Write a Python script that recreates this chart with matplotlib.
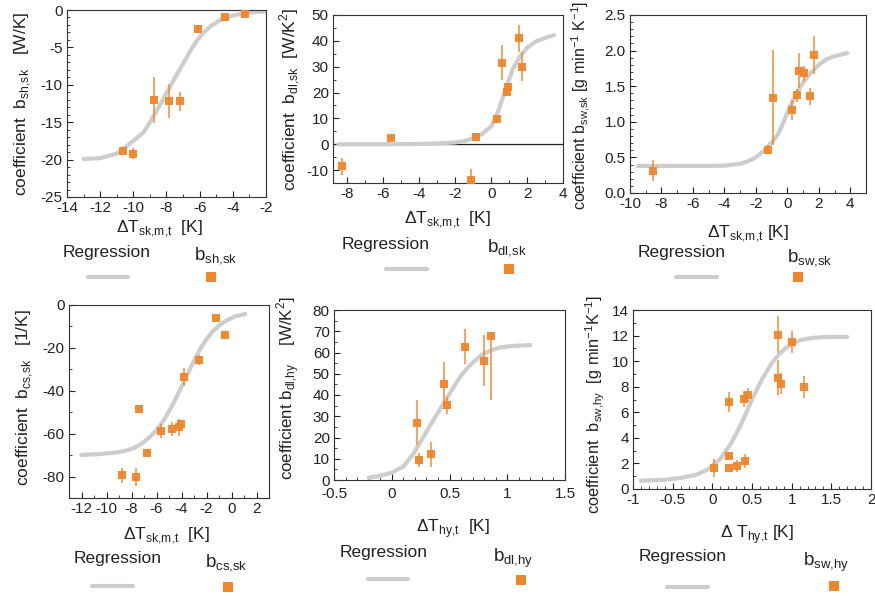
import matplotlib
matplotlib.use("Agg")
import matplotlib.pyplot as plt
from matplotlib.lines import Line2D
from matplotlib.ticker import MultipleLocator, AutoMinorLocator, FuncFormatter

plt.rcParams['font.family'] = ['Liberation Sans', 'DejaVu Sans']
plt.rcParams['mathtext.fontset'] = 'custom'
plt.rcParams['mathtext.rm'] = 'Liberation Sans'
plt.rcParams['axes.unicode_minus'] = False

ORANGE = '#f0862a'
GRAY = '#cdcdcd'

# ---------------- data ----------------
# Panel 1: b_sh,sk vs dT_sk,m,t
x1 = [-10.62, -10.02, -8.73, -7.87, -7.19, -6.08, -4.45, -3.25]
y1 = [-18.8, -19.2, -12.0, -12.2, -12.2, -2.5, -0.9, -0.5]
e1 = [0.4, 0.75, 3.1, 2.3, 1.25, 0.5, 0.2, 0.2]
cx1 = [-13.0, -12.0, -11.0, -10.4, -9.9, -9.4, -9.0, -8.6, -8.2, -7.8, -7.4,
       -7.0, -6.6, -6.2, -5.8, -5.3, -4.8, -4.2, -3.5, -2.8, -2.0]
cy1 = [-19.93, -19.8, -19.2, -18.2, -17.3, -16.4, -15.0, -13.5, -11.9, -10.3, -8.7,
       -7.2, -5.6, -4.2, -3.1, -2.1, -1.4, -0.85, -0.5, -0.3, -0.2]

# Panel 2: b_dl,sk vs dT_sk,m,t
x2 = [-8.28, -5.57, -1.14, -0.82, 0.30, 0.62, 0.86, 0.93, 1.57, 1.74]
y2 = [-8.6, 2.4, -13.8, 2.7, 9.7, 31.6, 20.1, 22.0, 41.0, 30.0]
e2 = [3.2, 0.8, 4.1, 1.5, 1.2, 6.7, 1.6, 1.2, 5.3, 5.7]
cx2 = [-8.5, -6.0, -4.0, -3.0, -2.0, -1.5, -1.0, -0.5, 0.0, 0.3, 0.6, 0.9,
       1.2, 1.6, 2.0, 2.5, 3.0, 3.5]
cy2 = [0.0, 0.0, 0.1, 0.3, 0.7, 1.2, 2.3, 4.0, 6.8, 11.0, 17.0, 23.2,
       29.0, 33.9, 37.3, 39.8, 41.1, 42.2]

# Panel 3: b_sw,sk vs dT_sk,m,t
x3 = [-8.51, -1.23, -0.89, 0.28, 0.60, 0.74, 1.06, 1.45, 1.72]
y3 = [0.315, 0.61, 1.34, 1.16, 1.37, 1.72, 1.68, 1.36, 1.94]
e3 = [0.15, 0.065, 0.665, 0.14, 0.085, 0.24, 0.1, 0.12, 0.27]
cx3 = [-9.5, -7.0, -5.0, -4.0, -3.0, -2.5, -2.0, -1.5, -1.0, -0.6, -0.2,
       0.2, 0.6, 1.0, 1.5, 2.0, 2.5, 3.0, 3.8]
cy3 = [0.38, 0.38, 0.38, 0.385, 0.41, 0.445, 0.50, 0.59, 0.71, 0.82, 1.02,
       1.23, 1.40, 1.55, 1.69, 1.80, 1.88, 1.92, 1.965]

# Panel 4: b_cs,sk vs dT_sk,m,t
x4 = [-8.73, -7.64, -7.40, -6.75, -5.66, -4.77, -4.18, -4.08, -3.78, -2.60, -1.21, -0.49]
y4 = [-79.5, -80.0, -48.3, -69.0, -58.7, -57.9, -57.0, -55.5, -33.7, -25.6, -6.2, -14.2]
e4 = [3.6, 4.2, 1.2, 1.3, 3.1, 3.4, 4.0, 2.0, 4.1, 2.5, 0.5, 0.5]
cx4 = [-12.0, -10.5, -9.2, -8.5, -7.85, -7.2, -6.5, -6.0, -5.4, -4.9, -4.4,
       -3.9, -3.5, -3.0, -2.5, -2.0, -1.5, -1.0, -0.4, 0.3, 1.1]
cy4 = [-69.9, -69.5, -68.8, -68.0, -66.8, -64.7, -61.4, -58.4, -53.6, -48.6, -43.0,
       -37.0, -32.0, -26.0, -20.5, -16.0, -12.3, -9.6, -7.2, -5.3, -4.2]

# Panel 5: b_dl,hy vs dT_hy,t
x5 = [0.217, 0.24, 0.34, 0.45, 0.478, 0.63, 0.797, 0.858]
y5 = [27.0, 9.4, 12.1, 45.3, 35.1, 62.7, 56.2, 67.9]
e5_lo = [10.5, 3.5, 5.9, 10.4, 4.1, 8.3, 12.1, 30.3]
e5_hi = [10.5, 3.5, 5.9, 10.4, 4.1, 8.3, 12.1, 0.0]
cx5 = [-0.2, -0.1, 0.0, 0.1, 0.19, 0.275, 0.36, 0.45, 0.51, 0.565, 0.62,
       0.68, 0.74, 0.8, 0.87, 0.94, 1.05, 1.2]
cy5 = [1.1, 2.0, 3.5, 6.3, 12.5, 20.4, 28.2, 36.1, 41.5, 46.3, 50.5,
       54.1, 57.2, 59.6, 61.2, 62.4, 63.1, 63.5]

# Panel 6: b_sw,hy vs dT_hy,t
x6 = [0.02, 0.207, 0.215, 0.215, 0.306, 0.41, 0.40, 0.45, 0.83, 0.83, 0.86, 1.00, 1.15]
y6 = [1.65, 2.6, 1.65, 6.82, 1.78, 2.2, 7.05, 7.37, 12.07, 8.7, 8.23, 11.49, 8.0]
e6 = [0.7, 0.3, 0.1, 0.8, 0.45, 0.55, 0.65, 0.55, 1.44, 1.37, 0.83, 0.86, 0.87]
cx6 = [-0.9, -0.6, -0.4, -0.2, -0.05, 0.1, 0.24, 0.37, 0.5, 0.625, 0.75, 0.85,
       0.93, 1.04, 1.14, 1.27, 1.4, 1.55, 1.7]
cy6 = [0.65, 0.72, 0.86, 1.12, 1.55, 2.35, 3.6, 5.17, 7.0, 8.57, 9.85, 10.6,
       11.05, 11.45, 11.7, 11.82, 11.88, 11.9, 11.9]

# ---------------- layout ----------------
W, H = 875, 596
fig = plt.figure(figsize=(W / 100, H / 100), dpi=100)


def add_axes(l, r, t, b):
    return fig.add_axes([l / W, 1 - b / H, (r - l) / W, (b - t) / H])


def fx(x):
    return x / W


def fy(y):
    return 1 - y / H


def sub(s):
    return '$_\\mathregular{' + s.replace(',', '{,}') + '}$'


gfmt = FuncFormatter(lambda v, pos: '%g' % round(v, 6))

panels = [
    dict(box=(67, 266, 10, 197), x=x1, y=y1, e=e1, cx=cx1, cy=cy1,
         xlim=(-14, -2), ylim=(-25, 0), xmaj=2, xmin=2, ymaj=5, ymin=5,
         ylabel='coefficient  b' + sub('sh,sk') + '   [W/K]', ylc=(-0.17, 0.5), yfs=12.5,
         xlabel='ΔT' + sub('sk,m,t') + '  [K]', xlc=(0.467, -0.115),
         leg=dict(reg=(107, 253), line=(88, 128, 277), lab=(194, 256), sq=(211, 277)),
         lab='b' + sub('sh,sk')),
    dict(box=(333, 563, 15, 183), x=x2, y=y2, e=e2, cx=cx2, cy=cy2,
         xlim=(-8.8, 4), ylim=(-15, 50), xmaj=2, xmin=2, ymaj=10, ymin=2,
         ylabel='coefficient  b' + sub('dl,sk') + '  [W/K$^\\mathregular{2}$]', ylc=(-0.13, 0.5), yfs=12.5,
         xlabel='ΔT' + sub('sk,m,t') + '  [K]', xlc=(0.5, -0.16),
         leg=dict(reg=(386, 245), line=(386, 427, 269), lab=(487, 248), sq=(509, 269)),
         lab='b' + sub('dl,sk'), zero=True),
    dict(box=(630, 866, 15, 193), x=x3, y=y3, e=e3, cx=cx3, cy=cy3,
         xlim=(-10, 5), ylim=(0, 2.5), xmaj=2, xmin=2, ymaj=0.5, ymin=5,
         ylabel='coefficient b' + sub('sw,sk') + ' [g min$^\\mathregular{-1}$ K$^\\mathregular{-1}$]',
         ylc=(-0.16, 0.49), yfs=11.5,
         xlabel='ΔT' + sub('sk,m,t') + ' [K]', xlc=(0.5, -0.17),
         leg=dict(reg=(682, 253), line=(676, 717, 277), lab=(787, 258), sq=(798, 277)),
         lab='b' + sub('sw,sk'), yfmt='%.1f'),
    dict(box=(69, 269, 305, 498), x=x4, y=y4, e=e4, cx=cx4, cy=cy4,
         xlim=(-13, 3), ylim=(-90, 0), xmaj=2, xmin=2, ymaj=20, ymin=2,
         ylabel='coefficient  b' + sub('cs,sk') + '   [1/K]', ylc=(-0.17, 0.52), yfs=12.5,
         xlabel='ΔT' + sub('sk,m,t') + '  [K]', xlc=(0.49, -0.14),
         leg=dict(reg=(118, 558), line=(92, 133, 586), lab=(205, 563), sq=(228, 587)),
         lab='b' + sub('cs,sk')),
    dict(box=(334, 565, 310, 480), x=x5, y=y5, e=[e5_lo, e5_hi], cx=cx5, cy=cy5,
         xlim=(-0.5, 1.5), ylim=(0, 80), xmaj=0.5, xmin=5, ymaj=10, ymin=2,
         ylabel='coefficient b' + sub('dl,hy') + '    [W/K$^\\mathregular{2}$]', ylc=(-0.14, 0.54), yfs=12.2,
         xlabel='ΔT' + sub('hy,t') + '  [K]', xlc=(0.515, -0.218),
         leg=dict(reg=(384, 553), line=(368, 408, 579), lab=(493, 558), sq=(521, 580)),
         lab='b' + sub('dl,hy'), xpad=5),
    dict(box=(633, 871, 310, 489), x=x6, y=y6, e=e6, cx=cx6, cy=cy6,
         xlim=(-1, 2), ylim=(0, 14), xmaj=0.5, xmin=5, ymaj=2, ymin=2,
         ylabel='coefficient  b' + sub('sw,hy') + '  [g min$^\\mathregular{-1}$K$^\\mathregular{-1}$]',
         ylc=(-0.11, 0.47), yfs=11.8,
         xlabel='Δ T' + sub('hy,t') + ' [K]', xlc=(0.52, -0.19),
         leg=dict(reg=(683, 557), line=(667, 708, 587), lab=(803, 562), sq=(834, 586)),
         lab='b' + sub('sw,hy')),
]

for p in panels:
    ax = add_axes(*p['box'])
    ax.plot(p['cx'], p['cy'], color=GRAY, lw=3.0, solid_capstyle='round',
            solid_joinstyle='round', zorder=2)
    if p.get('zero'):
        ax.axhline(0, color='#222222', lw=0.9, zorder=1)
    ax.errorbar(p['x'], p['y'], yerr=p['e'], fmt='s', color=ORANGE, ecolor=ORANGE,
                ms=6, mew=0, elinewidth=1.1, capsize=2.4, capthick=1.0, zorder=3,
                alpha=0.95)
    ax.set_xlim(*p['xlim'])
    ax.set_ylim(*p['ylim'])
    ax.xaxis.set_major_locator(MultipleLocator(p['xmaj']))
    ax.yaxis.set_major_locator(MultipleLocator(p['ymaj']))
    ax.xaxis.set_minor_locator(AutoMinorLocator(p['xmin']))
    ax.yaxis.set_minor_locator(AutoMinorLocator(p['ymin']))
    ax.xaxis.set_major_formatter(gfmt)
    if p.get('yfmt'):
        ax.yaxis.set_major_formatter(FuncFormatter(lambda v, pos, f=p['yfmt']: f % v))
    else:
        ax.yaxis.set_major_formatter(gfmt)
    ax.tick_params(which='both', direction='in', top=False, right=False,
                   labelsize=11, colors='#222222', pad=3)
    ax.tick_params(axis='x', which='major', pad=p.get('xpad', 3))
    ax.tick_params(which='major', length=4, width=0.8)
    ax.tick_params(which='minor', length=2.2, width=0.6)
    for s in ax.spines.values():
        s.set_linewidth(0.8)
        s.set_color('#333333')
    ax.set_ylabel(p['ylabel'], fontsize=p['yfs'], color='#222222')
    ax.yaxis.set_label_coords(*p['ylc'])
    ax.set_xlabel(p['xlabel'], fontsize=12.5, color='#222222')
    ax.xaxis.set_label_coords(*p['xlc'])

    lg = p['leg']
    fig.text(fx(lg['reg'][0]), fy(lg['reg'][1]), 'Regression', fontsize=12.5,
             ha='center', va='center', color='#222222')
    x0, x1_, yl = lg['line']
    fig.add_artist(Line2D([fx(x0), fx(x1_)], [fy(yl), fy(yl)], transform=fig.transFigure,
                          color=GRAY, lw=3.0, solid_capstyle='round'))
    fig.text(fx(lg['lab'][0]), fy(lg['lab'][1]), p['lab'], fontsize=13.5,
             ha='left', va='center', color='#222222')
    fig.add_artist(Line2D([fx(lg['sq'][0])], [fy(lg['sq'][1])], transform=fig.transFigure,
                          marker='s', ms=7, mew=0, color=ORANGE, linestyle='none'))

fig.savefig('out.png', dpi=100)
